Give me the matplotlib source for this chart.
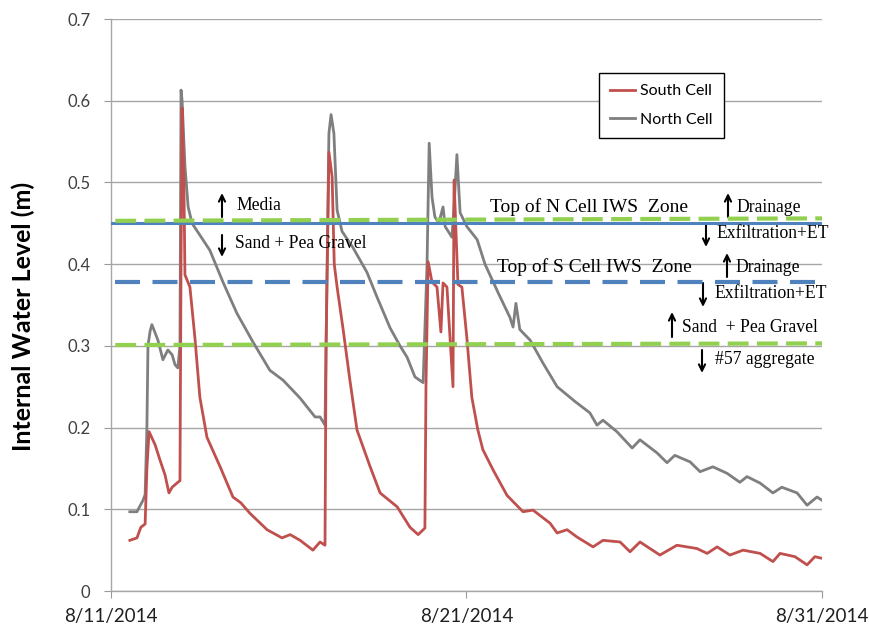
import matplotlib
matplotlib.use("Agg")
import matplotlib.pyplot as plt
import numpy as np
import pandas as pd

# ---- data (days after 8/11/2014, water level m) ----
north_days = [0.53, 0.73, 0.90, 0.96, 1.01, 1.04, 1.10, 1.15, 1.32, 1.46, 1.60, 1.72, 1.80, 1.88,
              1.94, 1.97, 2.00, 2.08, 2.17, 2.28, 2.78, 3.15, 3.54, 3.99, 4.47, 4.84, 5.32, 5.74, 5.88, 6.02,
              6.05, 6.13, 6.19, 6.27, 6.36, 6.50, 6.81, 7.20, 7.48, 7.85, 8.13, 8.33, 8.55, 8.78,
              8.89, 8.95, 9.03, 9.11, 9.22, 9.34, 9.40, 9.59, 9.65, 9.73, 9.82, 10.01, 10.30, 10.52,
              10.89, 11.22, 11.31, 11.39, 11.50, 11.79, 12.15, 12.55, 13.05, 13.47, 13.67, 13.84, 14.23,
              14.66, 14.88, 15.36, 15.64, 15.86, 16.29, 16.57, 16.93, 17.33, 17.69, 17.89, 18.26,
              18.62, 18.87, 19.30, 19.58, 19.86, 20.00]
north_vals = [0.097, 0.097, 0.111, 0.118, 0.200, 0.300, 0.318, 0.326, 0.307, 0.283, 0.295, 0.289, 0.277, 0.273,
              0.300, 0.613, 0.600, 0.520, 0.470, 0.450, 0.417, 0.378, 0.340, 0.305, 0.270, 0.258, 0.236, 0.213, 0.213, 0.203,
              0.300, 0.560, 0.583, 0.560, 0.466, 0.440, 0.420, 0.390, 0.360, 0.322, 0.300, 0.286, 0.262, 0.255,
              0.400, 0.548, 0.482, 0.458, 0.450, 0.470, 0.446, 0.433, 0.470, 0.534, 0.463, 0.446, 0.430, 0.400,
              0.365, 0.335, 0.323, 0.352, 0.320, 0.307, 0.279, 0.250, 0.232, 0.218, 0.203, 0.209, 0.195,
              0.175, 0.185, 0.169, 0.157, 0.166, 0.158, 0.146, 0.152, 0.144, 0.133, 0.140, 0.132,
              0.120, 0.127, 0.120, 0.105, 0.115, 0.111]

south_days = [0.53, 0.73, 0.84, 0.96, 1.01, 1.07, 1.24, 1.38, 1.52, 1.63, 1.72, 1.88, 1.94, 1.97, 2.00,
              2.05, 2.08, 2.22, 2.36, 2.50, 2.70, 3.07, 3.43, 3.65, 3.91, 4.39, 4.81, 5.04, 5.32, 5.68, 5.88, 6.02,
              6.05, 6.13, 6.22, 6.28, 6.36, 6.53, 6.72, 6.92, 7.29, 7.57, 8.05, 8.41, 8.64, 8.83, 8.86, 8.92,
              9.03, 9.17, 9.28, 9.34, 9.45, 9.62, 9.65, 9.76, 9.87, 10.01, 10.15, 10.32, 10.46, 10.75,
              11.14, 11.59, 11.87, 12.35, 12.55, 12.83, 13.11, 13.56, 13.84, 14.32, 14.60, 14.88,
              15.44, 15.92, 16.48, 16.77, 17.05, 17.41, 17.78, 18.26, 18.62, 18.82, 19.24, 19.58,
              19.80, 20.00]
south_vals = [0.062, 0.065, 0.078, 0.082, 0.150, 0.195, 0.179, 0.160, 0.142, 0.120, 0.127, 0.133, 0.135, 0.400, 0.591,
              0.500, 0.387, 0.372, 0.310, 0.237, 0.188, 0.152, 0.115, 0.108, 0.095, 0.075, 0.065, 0.069, 0.062, 0.050, 0.060, 0.056,
              0.300, 0.537, 0.507, 0.400, 0.372, 0.320, 0.258, 0.197, 0.152, 0.120, 0.103, 0.078, 0.069, 0.077, 0.250, 0.403,
              0.378, 0.372, 0.317, 0.377, 0.372, 0.250, 0.503, 0.375, 0.372, 0.310, 0.237, 0.197, 0.173, 0.148,
              0.117, 0.097, 0.099, 0.083, 0.071, 0.075, 0.066, 0.054, 0.062, 0.060, 0.048, 0.060,
              0.044, 0.056, 0.052, 0.046, 0.054, 0.044, 0.050, 0.046, 0.036, 0.046, 0.042, 0.032,
              0.042, 0.040]

start = pd.Timestamp("2014-08-11")
north_x = start + pd.to_timedelta(north_days, unit="D")
south_x = start + pd.to_timedelta(south_days, unit="D")

n_top_media = 0.453      # green dashed (media / sand boundary)
n_iws_top = 0.450        # blue solid
s_iws_top = 0.378        # blue dashed
sand_57 = 0.301          # green dashed lower

x_ticks = [pd.Timestamp("2014-08-11"), pd.Timestamp("2014-08-21"), pd.Timestamp("2014-08-31")]
x_ticklabels = ["8/11/2014", "8/21/2014", "8/31/2014"]
y_ticks = [0, 0.1, 0.2, 0.3, 0.4, 0.5, 0.6, 0.7]
y_ticklabels = ["0", "0.1", "0.2", "0.3", "0.4", "0.5", "0.6", "0.7"]

sans = ["Lato", "DejaVu Sans"]
serif = ["Liberation Serif", "DejaVu Serif"]

fig = plt.figure(figsize=(8.69, 6.30), dpi=100)
ax = fig.add_axes([111/869, 1-591/630, 711/869, 572/630])

ax.set_xlim(x_ticks[0], x_ticks[-1])
ax.set_ylim(0, 0.7)
ax.set_yticks(y_ticks)
ax.set_yticklabels(y_ticklabels, fontfamily=sans, fontsize=12, color="#404040")
ax.set_xticks(x_ticks)
ax.set_xticklabels(x_ticklabels, fontfamily=sans, fontsize=13.5, color="#202020")
ax.tick_params(axis="y", length=5, color="#999999", pad=10)
ax.tick_params(axis="x", length=5, color="#999999", pad=7)
ax.grid(axis="y", color="#A6A6A6", lw=1.0)
ax.set_axisbelow(True)
for s in ["top", "right"]:
    ax.spines[s].set_visible(False)
for s in ["left", "bottom"]:
    ax.spines[s].set_color("#A6A6A6")
    ax.spines[s].set_linewidth(1.0)

ax.set_ylabel("Internal Water Level (m)", fontfamily=sans, fontsize=18, fontweight="bold")
ax.yaxis.set_label_coords(-0.107, 0.48)

l1, = ax.plot(south_x, south_vals, color="#C0504D", lw=2.0, label="South Cell", zorder=3)
l2, = ax.plot(north_x, north_vals, color="#7F7F7F", lw=2.0, label="North Cell", zorder=2)

xl0 = start + pd.Timedelta(days=0.12)
xl1 = x_ticks[-1]
ax.plot([x_ticks[0], xl1], [n_iws_top, n_iws_top], color="#4F81BD", lw=2.2, zorder=4)
ax.plot([xl0, xl1], [n_top_media, n_top_media + 0.003], color="#92D050", lw=3.0,
        dashes=(5, 2), zorder=5)
ax.plot([xl0, xl1], [s_iws_top, s_iws_top], color="#4F81BD", lw=3.0, dashes=(6, 3), zorder=4)
ax.plot([xl0, xl1], [sand_57, sand_57 + 0.002], color="#92D050", lw=3.0, dashes=(5, 2), zorder=5)

leg = ax.legend(handles=[l1, l2], loc="upper left", bbox_to_anchor=(0.686, 0.906),
                borderaxespad=0, frameon=True, fancybox=False, edgecolor="black", framealpha=1,
                prop={"family": sans, "size": 11.5}, handlelength=1.6, handletextpad=0.3,
                borderpad=0.7, labelspacing=0.9)
leg.get_frame().set_linewidth(1.0)

def px(x, y):
    # convert image pixel coordinates to figure fraction
    return x / 869, 1 - y / 630

def label(x, y, s, size=12.7, ha="left"):
    fig.text(*px(x, y), s, fontfamily=serif, fontsize=size, ha=ha, va="center", color="black")

def arrow(x, ytop, ybot, up=True):
    head, tail = (ytop, ybot) if up else (ybot, ytop)
    ax.annotate("", xy=px(x, head), xytext=px(x, tail),
                xycoords="figure fraction", textcoords="figure fraction",
                arrowprops=dict(arrowstyle="->,head_length=0.45,head_width=0.22",
                                lw=1.5, color="black", shrinkA=0, shrinkB=0))

arrow(222, 193, 217, True);  label(236, 206, "Media")
arrow(222, 235, 257, False); label(235, 244, "Sand + Pea Gravel")
label(490, 207, "Top of N Cell IWS  Zone", size=14)
arrow(728, 193, 217, True);  label(736, 208, "Drainage")
arrow(706, 223, 247, False); label(716, 233, "Exfiltration+ET")
label(497, 267, "Top of S Cell IWS  Zone", size=14)
arrow(727, 253, 277, True);  label(735, 268, "Drainage")
arrow(703, 283, 307, False); label(714, 293, "Exfiltration+ET")
arrow(672, 312, 337, True);  label(682, 328, "Sand  + Pea Gravel")
arrow(702, 350, 373, False); label(715, 360, "#57 aggregate")

fig.savefig("out.png", dpi=100)
